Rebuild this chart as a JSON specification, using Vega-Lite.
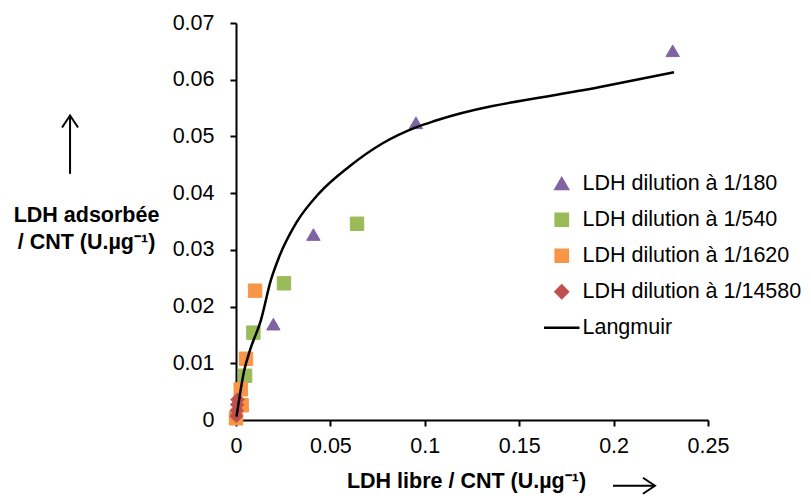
{
  "$schema": "https://vega.github.io/schema/vega-lite/v6.json",
  "width": 472,
  "height": 397,
  "autosize": {"type": "none"},
  "padding": {"left": 236, "top": 23, "right": 103, "bottom": 79},
  "background": "white",
  "config": {
    "view": {"stroke": null},
    "font": "Liberation Sans",
    "axis": {
      "grid": false,
      "labelFont": "Liberation Sans",
      "labelFontSize": 21.5,
      "labelColor": "black",
      "labelFlush": false,
      "titleFont": "Liberation Sans",
      "titleFontSize": 21.5,
      "titleFontWeight": "bold",
      "titleColor": "black"
    }
  },
  "datasets": {
    "points": [
      {"series": "LDH dilution à 1/180", "x": 0.2313, "y": 0.0651},
      {"series": "LDH dilution à 1/180", "x": 0.0953, "y": 0.0524},
      {"series": "LDH dilution à 1/180", "x": 0.041, "y": 0.0327},
      {"series": "LDH dilution à 1/180", "x": 0.0198, "y": 0.0169},
      {"series": "LDH dilution à 1/540", "x": 0.0641, "y": 0.0346},
      {"series": "LDH dilution à 1/540", "x": 0.0254, "y": 0.0241},
      {"series": "LDH dilution à 1/540", "x": 0.0092, "y": 0.0154},
      {"series": "LDH dilution à 1/540", "x": 0.0048, "y": 0.0078},
      {"series": "LDH dilution à 1/1620", "x": 0.0101, "y": 0.0228},
      {"series": "LDH dilution à 1/1620", "x": 0.0053, "y": 0.0108},
      {"series": "LDH dilution à 1/1620", "x": 0.0025, "y": 0.0054},
      {"series": "LDH dilution à 1/1620", "x": 0.003, "y": 0.0026},
      {"series": "LDH dilution à 1/1620", "x": 0.0, "y": 0.0003},
      {"series": "LDH dilution à 1/14580", "x": 0.0008, "y": 0.0036},
      {"series": "LDH dilution à 1/14580", "x": 0.0006, "y": 0.0027},
      {"series": "LDH dilution à 1/14580", "x": 0.0004, "y": 0.0017},
      {"series": "LDH dilution à 1/14580", "x": 0.0002, "y": 0.0007}
    ],
    "langmuir": [
      {"x": 0.0003, "y": 0.0006},
      {"x": 0.0044, "y": 0.0088},
      {"x": 0.0074, "y": 0.0123},
      {"x": 0.0132, "y": 0.0176},
      {"x": 0.0185, "y": 0.0247},
      {"x": 0.0229, "y": 0.0288},
      {"x": 0.0318, "y": 0.0347},
      {"x": 0.0441, "y": 0.04},
      {"x": 0.06, "y": 0.0447},
      {"x": 0.0777, "y": 0.0488},
      {"x": 0.0953, "y": 0.0516},
      {"x": 0.1059, "y": 0.0528},
      {"x": 0.1928, "y": 0.0587},
      {"x": 0.232, "y": 0.0613}
    ]
  },
  "layer": [
    {
      "data": {"name": "points"},
      "mark": {"type": "point", "filled": true, "opacity": 1, "strokeWidth": 1, "size": 180},
      "encoding": {
        "x": {
          "field": "x", "type": "quantitative",
          "scale": {"domain": [0, 0.25], "nice": false},
          "axis": {
            "values": [0, 0.05, 0.1, 0.15, 0.2, 0.25],
            "format": "~g",
            "domain": true,
            "domainColor": "#000000",
            "domainWidth": 2,
            "ticks": true,
            "tickColor": "#000000",
            "tickWidth": 2,
            "tickSize": 6,
            "labelPadding": 9,
            "title": "LDH libre / CNT (U.µg⁻¹)",
            "titleX": 230,
            "titleY": 67,
            "titleAlign": "center",
            "titleBaseline": "alphabetic"
          }
        },
        "y": {
          "field": "y", "type": "quantitative",
          "scale": {"domain": [0, 0.07], "nice": false},
          "axis": {
            "values": [0, 0.01, 0.02, 0.03, 0.04, 0.05, 0.06, 0.07],
            "format": "~g",
            "domain": true,
            "domainColor": "#000000",
            "domainWidth": 2,
            "ticks": true,
            "tickColor": "#000000",
            "tickWidth": 2,
            "tickSize": 6,
            "labelPadding": 16,
            "title": ["LDH adsorbée", "/ CNT (U.µg⁻¹)"],
            "titleAngle": 0,
            "titleX": -150,
            "titleY": 181,
            "titleAlign": "center",
            "titleBaseline": "top",
            "titleLineHeight": 27
          }
        },
        "color": {
          "field": "series", "type": "nominal",
          "scale": {
            "domain": ["LDH dilution à 1/180", "LDH dilution à 1/540", "LDH dilution à 1/1620", "LDH dilution à 1/14580", "Langmuir"],
            "range": ["#8064A2", "#9BBB59", "#F79646", "#C0504D", "#000000"]
          },
          "legend": {"orient": "none", "legendX": 315, "legendY": 150, "title": null, "labelFontSize": 21.5, "labelFont": "Liberation Sans", "labelColor": "black", "labelLimit": 400, "symbolSize": 150, "symbolStrokeWidth": 2.5, "labelOffset": 10, "rowPadding": 13, "padding": 0, "symbolOpacity": 1}
        },
        "stroke": {
          "field": "series", "type": "nominal",
          "scale": {
            "domain": ["LDH dilution à 1/180", "LDH dilution à 1/540", "LDH dilution à 1/1620", "LDH dilution à 1/14580", "Langmuir"],
            "range": ["#8064A2", "#9BBB59", "#F79646", "#C0504D", "#000000"]
          },
          "legend": {"orient": "none", "legendX": 315, "legendY": 150, "title": null, "labelFontSize": 21.5, "labelFont": "Liberation Sans", "labelColor": "black", "labelLimit": 400, "symbolSize": 150, "symbolStrokeWidth": 2.5, "labelOffset": 10, "rowPadding": 13, "padding": 0, "symbolOpacity": 1}
        },
        "shape": {
          "field": "series", "type": "nominal",
          "scale": {
            "domain": ["LDH dilution à 1/180", "LDH dilution à 1/540", "LDH dilution à 1/1620", "LDH dilution à 1/14580", "Langmuir"],
            "range": ["triangle-up", "square", "square", "diamond", "M-2.9,0L2.9,0"]
          },
          "legend": {"orient": "none", "legendX": 315, "legendY": 150, "title": null, "labelFontSize": 21.5, "labelFont": "Liberation Sans", "labelColor": "black", "labelLimit": 400, "symbolSize": 150, "symbolStrokeWidth": 2.5, "labelOffset": 10, "rowPadding": 13, "padding": 0, "symbolOpacity": 1}
        }
      }
    },
    {
      "data": {"name": "langmuir"},
      "mark": {"type": "line", "color": "black", "strokeWidth": 2.5, "interpolate": "monotone"},
      "encoding": {
        "x": {"field": "x", "type": "quantitative"},
        "y": {"field": "y", "type": "quantitative"}
      }
    },
    {
      "data": {"values": [{}]},
      "mark": {"type": "rule", "color": "black", "strokeWidth": 2},
      "encoding": {
        "x": {"datum": -0.0879, "type": "quantitative"},
        "y": {"datum": 0.0434, "type": "quantitative"},
        "y2": {"datum": 0.0537}
      }
    },
    {
      "data": {"values": [{}]},
      "mark": {"type": "point", "shape": "M-1,1.5L0,0L1,1.5", "filled": false, "stroke": "black", "strokeWidth": 2, "size": 256, "opacity": 1},
      "encoding": {
        "x": {"datum": -0.0879, "type": "quantitative"},
        "y": {"datum": 0.0537, "type": "quantitative"}
      }
    },
    {
      "data": {"values": [{}]},
      "mark": {"type": "rule", "color": "black", "strokeWidth": 2},
      "encoding": {
        "x": {"datum": 0.1997, "type": "quantitative"},
        "x2": {"datum": 0.2219},
        "y": {"datum": -0.0116, "type": "quantitative"}
      }
    },
    {
      "data": {"values": [{}]},
      "mark": {"type": "point", "shape": "M-1.5,-1L0,0L-1.5,1", "filled": false, "stroke": "black", "strokeWidth": 2, "size": 256, "opacity": 1},
      "encoding": {
        "x": {"datum": 0.2219, "type": "quantitative"},
        "y": {"datum": -0.0116, "type": "quantitative"}
      }
    }
  ]
}
